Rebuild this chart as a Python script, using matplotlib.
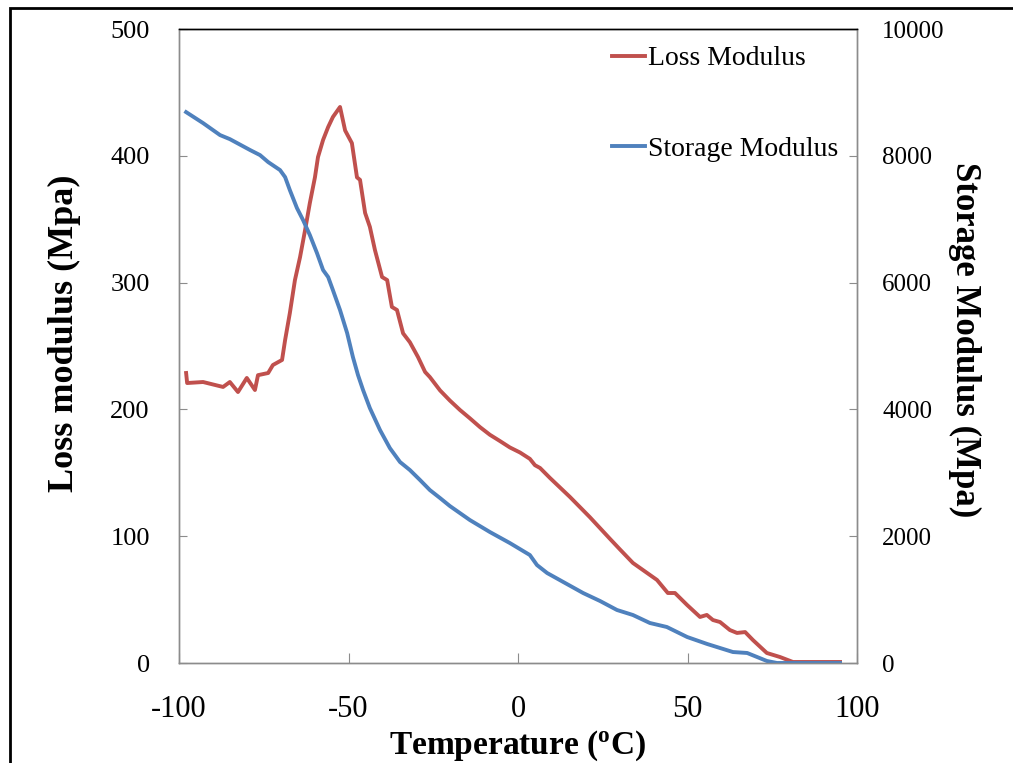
#!/usr/bin/env python3
"""DMA: loss and storage modulus vs temperature"""

import matplotlib
matplotlib.use('Agg')
import matplotlib.pyplot as plt
import matplotlib.patches as patches

plt.rcParams.update({
    'font.family': 'Liberation Serif',
    'mathtext.fontset': 'custom',
    'mathtext.rm': 'Liberation Serif',
    'mathtext.bf': 'Liberation Serif:bold',
    'axes.unicode_minus': False,
})

# Loss modulus (left axis, Mpa)
loss_temp = [-97.9, -97.6, -92.9, -87.0, -85.0, -82.6, -80.0, -77.6, -76.7, -73.7,
             -72.3, -69.6, -68.7, -67.3, -65.8, -64.3, -62.8, -61.4, -59.9, -59.0,
             -57.5, -56.0, -54.6, -52.5, -51.0, -49.0, -47.5, -46.6, -45.1, -43.7,
             -42.2, -40.1, -38.6, -37.2, -35.7, -33.9, -31.9, -29.5, -27.4, -26.0,
             -23.0, -20.1, -17.1, -14.2, -11.2, -8.3, -5.3, -2.4, 0.6, 3.5,
             5.0, 6.5, 9.4, 15.3, 21.2, 27.1, 30.1, 33.9, 41.0, 44.2,
             46.3, 49.9, 53.7, 55.7, 57.5, 59.6, 62.5, 64.6, 67.0, 69.3,
             73.4, 77.3, 81.1, 88.2, 95.0]
loss_mod = [228.7, 220.8, 221.6, 217.7, 221.6, 213.7, 224.8, 215.3, 227.0, 228.7,
            235.0, 239.0, 254.7, 276.0, 302.0, 320.0, 341.5, 362.8, 383.0, 399.0,
            412.5, 422.7, 430.6, 438.5, 420.0, 410.0, 383.0, 381.0, 354.9, 344.0,
            325.7, 304.4, 302.0, 280.8, 278.4, 260.0, 253.0, 241.3, 229.5, 225.5,
            215.0, 207.0, 199.5, 193.0, 186.0, 180.0, 175.0, 170.0, 166.0, 161.0,
            156.0, 153.8, 146.0, 131.0, 115.0, 98.0, 89.5, 78.9, 65.5, 55.2,
            55.2, 45.7, 36.3, 37.9, 33.9, 32.3, 26.0, 23.7, 24.4, 18.1,
            7.9, 4.7, 0.8, 0.8, 0.8]

# Storage modulus (right axis, Mpa)
stor_temp = [-97.9, -92.9, -87.9, -85.0, -79.0, -76.1, -73.7, -70.2, -68.7, -67.3,
             -65.2, -63.4, -61.4, -59.3, -57.5, -56.0, -54.6, -52.5, -50.4, -48.7,
             -47.2, -45.7, -43.7, -40.7, -37.8, -34.8, -31.9, -28.9, -26.0, -23.0,
             -20.1, -14.2, -8.3, -2.4, 3.5, 5.6, 8.6, 19.2, 24.2, 29.2,
             33.9, 38.9, 43.9, 49.9, 55.8, 63.4, 67.6, 70.5, 73.4, 76.4,
             85.0, 95.0]
stor_mod = [8689, 8516, 8327, 8263, 8090, 8011, 7901, 7775, 7664, 7459,
            7175, 6986, 6750, 6466, 6198, 6087, 5882, 5567, 5204, 4826,
            4542, 4305, 4021, 3674, 3390, 3170, 3044, 2886, 2728, 2602,
            2476, 2255, 2066, 1892, 1703, 1545, 1419, 1104, 978, 836,
            757, 631, 568, 410, 300, 173, 158, 95, 32, 0,
            0, 0]

left_ticks = [0, 100, 200, 300, 400, 500]
right_ticks = [0, 2000, 4000, 6000, 8000, 10000]
x_ticks = [-100, -50, 0, 50, 100]

red = '#C0504D'
blue = '#4F81BD'
gray = '#8C8C8C'

fig = plt.figure(figsize=(10.13, 7.63), dpi=100)
ax = fig.add_axes([179 / 1013, 100 / 763, 678 / 1013, 634 / 763])
ax2 = ax.twinx()

l1, = ax.plot(loss_temp, loss_mod, color=red, linewidth=2.8, label='Loss Modulus')
l2, = ax2.plot(stor_temp, stor_mod, color=blue, linewidth=2.8, label='Storage Modulus')

ax.set_xlim(-100, 100)
ax.set_ylim(0, 500)
ax2.set_ylim(0, 10000)
ax.set_xticks(x_ticks)
ax.set_yticks(left_ticks)
ax2.set_yticks(right_ticks)

ax.tick_params(axis='x', direction='in', length=7, width=0.8, color=gray,
               pad=23, labelsize=22)
ax.tick_params(axis='y', direction='in', length=6, width=0.8, color=gray,
               pad=21, labelsize=19)
ax2.tick_params(axis='y', direction='in', length=6, width=0.8, color=gray,
                pad=18, labelsize=18)

for a in (ax, ax2):
    for side in ('left', 'right', 'bottom'):
        a.spines[side].set_color(gray)
        a.spines[side].set_linewidth(1.0)
    a.spines['top'].set_color('black')
    a.spines['top'].set_linewidth(1.0)

ax.set_xlabel(r'Temperature ($\mathbf{^o}$C)', fontsize=24, fontweight='bold')
ax.xaxis.set_label_coords(0.5, -0.104)
ax.set_ylabel('Loss modulus (Mpa)', fontsize=26, fontweight='bold')
ax.yaxis.set_label_coords(-0.145, 0.52)
ax2.set_ylabel('Storage Modulus (Mpa)', fontsize=25, fontweight='bold',
               rotation=-90, va='center')
ax2.yaxis.set_label_coords(1.158, 0.51)

fig.legend(handles=[l1, l2], loc='upper left',
           bbox_to_anchor=(612 / 1013, 1 - 46 / 763), bbox_transform=fig.transFigure,
           frameon=False, fontsize=20, handlelength=1.2, handletextpad=0.1,
           labelspacing=2.35, borderpad=0, borderaxespad=0)

# outer frame of the pasted figure
frame = patches.Rectangle((10 / 1013, -0.5), 2.0, 0.5 + (1 - 8 / 763),
                          transform=fig.transFigure, fill=False,
                          edgecolor='black', linewidth=2.0, clip_on=False)
fig.patches.append(frame)

plt.savefig('out.png', dpi=100, facecolor='white')
plt.close()
